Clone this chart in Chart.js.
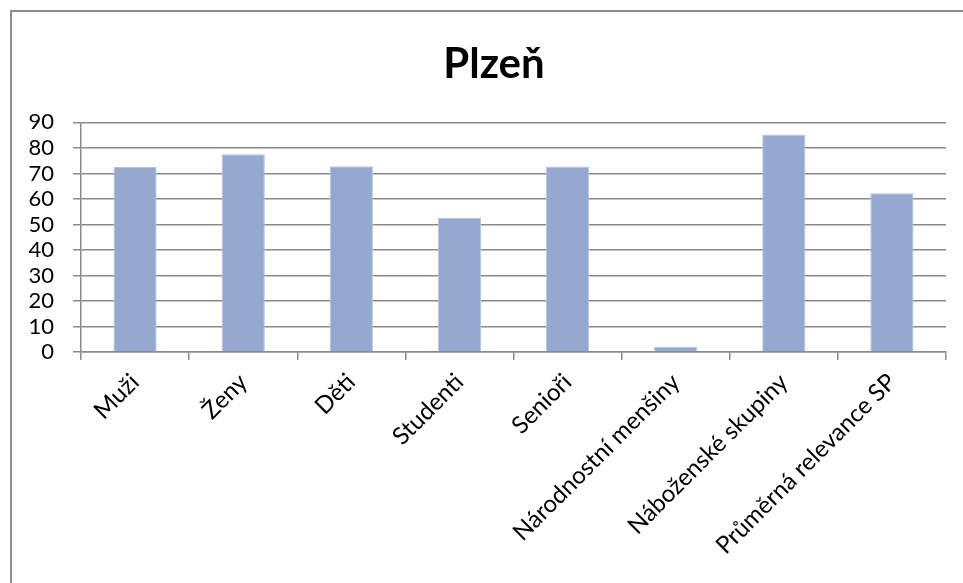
<!DOCTYPE html>
<html>
<head>
<meta charset="utf-8">
<script src="https://cdn.jsdelivr.net/npm/chart.js@4/dist/chart.umd.min.js"></script>
<style>
  html, body { margin: 0; padding: 0; background: #ffffff; }
  #wrap { width: 963px; height: 583px; position: relative; }
</style>
</head>
<body>
<div id="wrap"><canvas id="c" width="963" height="583"></canvas></div>
<script>
const chartTitle = "Plzeň";
const categories = ["Muži", "Ženy", "Děti", "Studenti", "Senioři", "Národnostní menšiny", "Náboženské skupiny", "Průměrná relevance SP"];
const values = [72.5, 77.5, 72.8, 52.5, 72.7, 2.1, 85.3, 62.2];
const yMin = 0;
const yMax = 90;
const yStep = 10;

const FONT = "Lato, 'Open Sans', sans-serif";
const GRID = "#8a8a8a";

const framePlugin = {
  id: 'frame',
  beforeDraw(chart) {
    const ctx = chart.ctx;
    ctx.save();
    ctx.fillStyle = '#ffffff';
    ctx.fillRect(0, 0, chart.width, chart.height);
    ctx.strokeStyle = '#8c8c8c';
    ctx.lineWidth = 2;
    ctx.strokeRect(11, 11, chart.width + 20, chart.height + 20);
    ctx.restore();
  }
};

const titleShiftPlugin = {
  id: 'titleShift',
  afterLayout(chart) {
    const tb = chart.titleBlock;
    if (tb) { tb.left = 42; tb.right = 946; }
  }
};

new Chart(document.getElementById('c'), {
  type: 'bar',
  data: {
    labels: categories,
    datasets: [{
      data: values,
      backgroundColor: '#95a9d0',
      borderColor: '#b4c3e0',
      borderWidth: 1,
      categoryPercentage: 1.0,
      barPercentage: 0.4
    }]
  },
  options: {
    responsive: false,
    animation: false,
    devicePixelRatio: 1,
    layout: { padding: { left: 0, right: 17, top: 0, bottom: 0 } },
    plugins: {
      legend: { display: false },
      tooltip: { enabled: false },
      title: {
        display: true,
        text: chartTitle,
        color: '#000000',
        font: { family: FONT, size: 42, weight: 'bold', lineHeight: 1.2 },
        padding: { top: 39, bottom: 33 }
      }
    },
    scales: {
      x: {
        grid: { display: true, drawOnChartArea: false, drawTicks: true, tickLength: 8, color: GRID, lineWidth: 1.5, offset: true },
        border: { display: true, color: GRID, width: 1.5 },
        ticks: { color: '#000000', font: { family: FONT, size: 24 }, minRotation: 45, maxRotation: 45, padding: 8, autoSkip: false },
        afterFit(scale) { scale.height = 231; }
      },
      y: {
        min: yMin,
        max: yMax,
        grid: { color: GRID, lineWidth: 1.5, tickLength: 8, drawTicks: true },
        border: { display: true, color: GRID, width: 1.5 },
        ticks: { stepSize: yStep, autoSkip: false, color: '#000000', font: { family: FONT, size: 22 }, padding: 19 },
        afterFit(scale) { scale.width = 81; }
      }
    }
  },
  plugins: [framePlugin, titleShiftPlugin]
});
</script>
</body>
</html>
